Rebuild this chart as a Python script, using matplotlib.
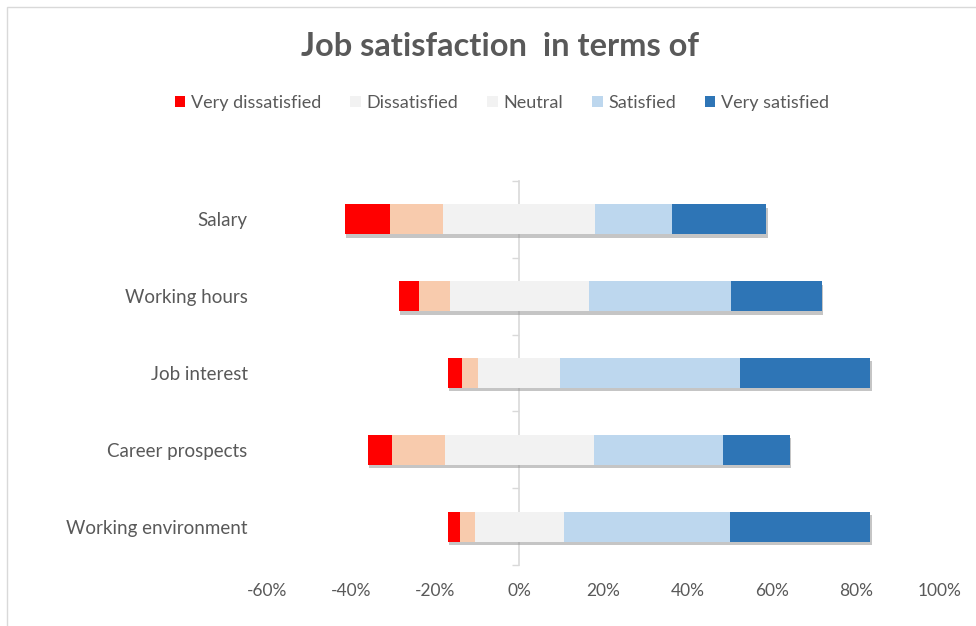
import matplotlib
matplotlib.use("Agg")
from matplotlib import pyplot as plt
from matplotlib.patches import Patch
import matplotlib.patheffects as pe
import numpy as np

plt.rcParams['font.family'] = ['Lato', 'DejaVu Sans']

topics = ["Salary", "Working hours", "Job interest", "Career prospects", "Working environment"]
very_dis = [10.9, 4.9, 3.3, 5.8, 2.9]
dis = [12.6, 7.3, 4.0, 12.6, 3.6]
neutral = [36.1, 32.9, 19.5, 35.3, 21.1]
sat = [18.3, 33.8, 42.8, 30.8, 39.5]
very_sat = [22.4, 21.6, 30.9, 15.9, 33.4]

series = ["Very dissatisfied", "Dissatisfied", "Neutral", "Satisfied", "Very satisfied"]
colors = ["#FF0000", "#F8CBAD", "#F2F2F2", "#BDD7EE", "#2E75B6"]
legend_colors = ["#FF0000", "#F2F2F2", "#F2F2F2", "#BDD7EE", "#2E75B6"]
txt = "#595959"

fig = plt.figure(figsize=(9.76, 6.26), dpi=100)
ax = fig.add_axes([0.2736, 0.0974, 0.963 - 0.2736, 0.7109 - 0.0974])

y = np.arange(len(topics))
vals = np.array([very_dis, dis, neutral, sat, very_sat])
left = -(vals[0] + vals[1] + vals[2] / 2)
shadow = [pe.SimplePatchShadow(offset=(1, -2.5), shadow_rgbFace="#8c8c8c", alpha=0.5), pe.Normal()]
for i in range(5):
    ax.barh(y, vals[i], left=left, height=0.39, color=colors[i], zorder=3,
            path_effects=shadow)
    left = left + vals[i]

ax.set_xlim(-60, 100)
ax.set_ylim(len(topics) - 0.5, -0.5)
ax.set_xticks(np.arange(-60, 101, 20))
ax.set_xticklabels(["{}%".format(v) for v in range(-60, 101, 20)])
ax.set_yticks(y)
ax.set_yticklabels(topics)
ax.tick_params(axis="both", length=0, labelcolor=txt)
ax.tick_params(axis="x", pad=13, labelsize=12.5)
ax.tick_params(axis="y", pad=14, labelsize=13.5)
for s in ax.spines.values():
    s.set_visible(False)

# vertical axis at 0 with tick marks between categories
sec = ax.secondary_yaxis(60 / 160)
sec.set_yticks(np.arange(-0.5, len(topics), 1))
sec.set_yticklabels([])
sec.tick_params(axis="y", length=5, color="#D9D9D9", width=1)
sec.spines["left"].set_color("#D9D9D9")
sec.spines["left"].set_linewidth(1.2)

fig.text(0.512, 1 - 46 / 626, "Job satisfaction  in terms of", ha="center", va="center",
         fontsize=23.5, fontweight="bold", color=txt)

handles = [Patch(facecolor=c, edgecolor="none") for c in legend_colors]
fig.legend(handles, series, loc="center", bbox_to_anchor=(0.514, 1 - 103 / 626), ncol=5,
           frameon=False, fontsize=13, labelcolor=txt, handlelength=0.6, handleheight=0.6,
           handletextpad=0.3, columnspacing=1.6)

# chart border (top/left visible)
fig.add_artist(plt.Rectangle((7 / 976, -0.1), 1.2, 1 - 7 / 626 + 0.1, transform=fig.transFigure,
                             fill=False, edgecolor="#D9D9D9", linewidth=1))

fig.savefig("out.png", dpi=100, facecolor="white")
